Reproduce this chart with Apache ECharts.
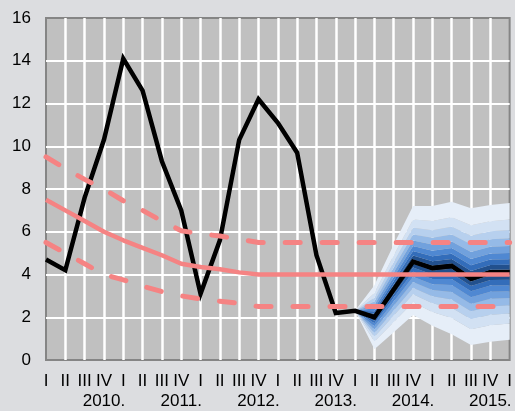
<!DOCTYPE html>
<html>
<head>
<meta charset="utf-8">
<script src="https://cdn.jsdelivr.net/npm/echarts@6/dist/echarts.min.js"></script>
<style>
html,body{margin:0;padding:0;background:#dcdde0;}
#chart{width:515px;height:411px;}
</style>
</head>
<body>
<div id="chart"></div>
<script>
// Categories: quarters 2010 Q1 .. 2016 Q1
const categories = [
  'I','II','III','IV\n2010.',
  'I','II','III','IV\n2011.',
  'I','II','III','IV\n2012.',
  'I','II','III','IV\n2013.',
  'I','II','III','IV\n2014.',
  'I','II','III','IV\n2015.',
  'I'
];
const yTicks = [0, 2, 4, 6, 8, 10, 12, 14, 16];

// Inflation (black line)
const inflation = [4.7, 4.2, 7.6, 10.3, 14.1, 12.6, 9.3, 7.0, 3.1, 5.6, 10.3, 12.2, 11.1, 9.7, 4.9, 2.2, 2.3, 2.0, 3.3, 4.6, 4.3, 4.4, 3.8, 4.1, 4.1];
// Target (solid red) and band (dashed red)
const target = [7.5, 7.0, 6.5, 6.0, 5.6, 5.25, 4.9, 4.5, 4.35, 4.25, 4.1, 4.0, 4.0, 4.0, 4.0, 4.0, 4.0, 4.0, 4.0, 4.0, 4.0, 4.0, 4.0, 4.0, 4.0];
const bandUpper = [9.5, 8.95, 8.45, 8.0, 7.45, 7.0, 6.5, 6.05, 5.9, 5.8, 5.65, 5.5, 5.5, 5.5, 5.5, 5.5, 5.5, 5.5, 5.5, 5.5, 5.5, 5.5, 5.5, 5.5, 5.5];
const bandLower = [5.5, 5.0, 4.5, 4.0, 3.75, 3.45, 3.2, 3.0, 2.85, 2.75, 2.65, 2.5, 2.5, 2.5, 2.5, 2.5, 2.5, 2.5, 2.5, 2.5, 2.5, 2.5, 2.5, 2.5, 2.5];

// Fan chart (projection from 2014 Q1 onward, index 16..24)
const fanStart = 16;
const fanCenter = [2.3, 2.0, 3.3, 4.6, 4.3, 4.4, 3.8, 4.1, 4.1];
const fanUpperWidth = [0, 1.5, 2.1, 2.6, 2.9, 3.0, 3.3, 3.15, 3.25];
const fanLowerWidth = [0, 1.5, 2.0, 2.5, 2.7, 3.2, 3.1, 3.25, 3.15];
const fanRatios = [1, 0.76, 0.61, 0.49, 0.38, 0.28, 0.19, 0.11, 0.04];
const fanColors = ['#e6eef8', '#d2e1f3', '#b7d0ee', '#95bae7', '#71a1dd', '#4f88d2', '#336dba', '#22508d', '#0e2440'];

// Build fan boundaries (ascending)
const boundaries = [];
fanRatios.forEach(r => boundaries.push(fanCenter.map((c, i) => c - fanLowerWidth[i] * r)));
fanRatios.slice().reverse().forEach(r => boundaries.push(fanCenter.map((c, i) => c + fanUpperWidth[i] * r)));
const pad = v => { const a = []; for (let i = 0; i < fanStart; i++) a.push('-'); return a.concat(v); };

const fanSeries = [];
fanSeries.push({
  type: 'line', stack: 'fan', data: pad(boundaries[0]), symbol: 'none',
  lineStyle: { width: 0, opacity: 0 }, silent: true, z: 2
});
const nb = boundaries.length; // 18
for (let j = 1; j < nb; j++) {
  const bandIdx = j - 1; // 0..16
  const colorIdx = bandIdx <= 8 ? bandIdx : 16 - bandIdx;
  fanSeries.push({
    type: 'line', stack: 'fan', symbol: 'none', silent: true, z: 2,
    data: pad(boundaries[j].map((v, i) => +(v - boundaries[j - 1][i]).toFixed(4))),
    lineStyle: { width: 0, opacity: 0 },
    areaStyle: { color: fanColors[colorIdx], opacity: 1 }
  });
}

const red = '#f58383';
const font = 'Liberation Sans, Arial, sans-serif';
const chart = echarts.init(document.getElementById('chart'), null, { renderer: 'canvas' });
chart.setOption({
  animation: false,
  backgroundColor: '#dcdde0',
  grid: {
    left: 46, right: 3, top: 18, bottom: 48,
    show: true, backgroundColor: '#c0c0c0', borderColor: '#858585', borderWidth: 2
  },
  xAxis: {
    type: 'category', data: categories, boundaryGap: false,
    axisLine: { show: false }, axisTick: { show: false },
    axisLabel: { interval: 0, margin: 11, fontSize: 17, lineHeight: 20, color: '#000', fontFamily: font },
    splitLine: { show: true, interval: 0, showMinLine: false, showMaxLine: false, lineStyle: { color: '#ffffff', width: 2.5 } }
  },
  yAxis: {
    type: 'value', min: yTicks[0], max: yTicks[yTicks.length - 1], interval: 2,
    axisLine: { show: false }, axisTick: { show: false },
    axisLabel: { margin: 15, fontSize: 17, color: '#000', fontFamily: font },
    splitLine: { show: true, showMinLine: false, showMaxLine: false, lineStyle: { color: '#ffffff', width: 2 } }
  },
  series: fanSeries.concat([
    {
      type: 'line', data: inflation, symbol: 'none', z: 5,
      lineStyle: { color: '#000', width: 4.5, join: 'miter', miterLimit: 6 }
    },
    {
      type: 'line', data: target, symbol: 'none', z: 6,
      lineStyle: { color: red, width: 4.5 }
    },
    {
      type: 'line', data: bandUpper, symbol: 'none', z: 6,
      lineStyle: { color: red, width: 5, type: [15, 22], cap: 'round' }
    },
    {
      type: 'line', data: bandLower, symbol: 'none', z: 6,
      lineStyle: { color: red, width: 5, type: [15, 22], cap: 'round' }
    }
  ])
});
</script>
</body>
</html>
